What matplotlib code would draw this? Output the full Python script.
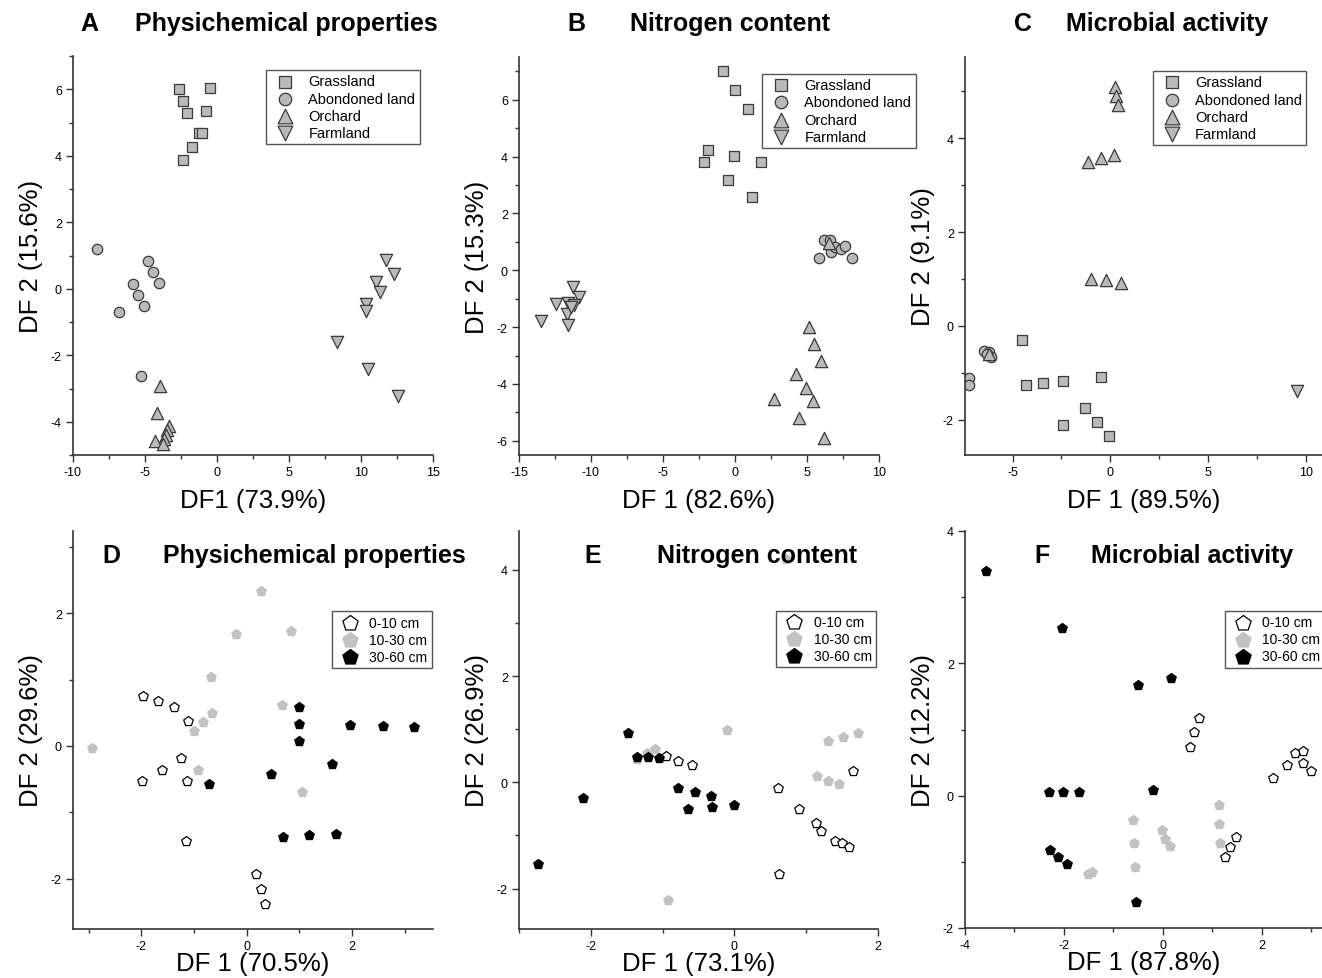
import matplotlib
matplotlib.use('Agg')
import matplotlib.pyplot as plt
from matplotlib.ticker import MultipleLocator

plt.rcParams['font.family'] = ['Liberation Sans', 'DejaVu Sans']
plt.rcParams['axes.unicode_minus'] = False

# ---- data: land use (panels A-C) ----
a_grass_x = [-2.63, -0.48, -2.35, -2.05, -0.78, -1.24, -1.03, -1.77, -2.38]
a_grass_y = [6.02, 6.03, 5.65, 5.29, 5.36, 4.67, 4.67, 4.26, 3.86]
a_aband_x = [-8.34, -4.76, -4.43, -4.04, -5.82, -5.47, -5.10, -6.81, -5.29]
a_aband_y = [1.19, 0.82, 0.49, 0.16, 0.13, -0.20, -0.51, -0.71, -2.62]
a_orch_x = [-3.99, -4.15, -3.35, -3.45, -3.55, -3.65, -4.32, -3.72]
a_orch_y = [-2.92, -3.74, -4.12, -4.25, -4.40, -4.52, -4.57, -4.67]
a_farm_x = [11.72, 12.30, 11.07, 11.33, 10.38, 10.38, 8.35, 10.47, 12.57]
a_farm_y = [0.87, 0.43, 0.20, -0.11, -0.47, -0.66, -1.60, -2.42, -3.24]

b_grass_x = [-0.81, 0.03, 0.93, -1.90, -2.18, -0.04, 1.84, -0.46, 1.19]
b_grass_y = [7.01, 6.33, 5.68, 4.24, 3.79, 4.02, 3.79, 3.18, 2.57]
b_aband_x = [6.15, 6.61, 5.80, 6.67, 6.96, 7.36, 7.61, 8.12]
b_aband_y = [1.07, 1.06, 0.43, 0.63, 0.82, 0.74, 0.85, 0.44]
b_orch_x = [6.52, 5.11, 5.52, 5.96, 4.26, 4.90, 2.72, 5.45, 4.43, 6.19]
b_orch_y = [0.96, -2.00, -2.59, -3.18, -3.65, -4.13, -4.52, -4.59, -5.20, -5.91]
b_farm_x = [-11.24, -10.83, -12.40, -11.59, -11.20, -11.66, -13.47, -11.61, -11.40]
b_farm_y = [-0.60, -0.94, -1.19, -1.16, -1.24, -1.53, -1.80, -1.94, -1.30]

c_grass_x = [-4.51, -4.30, -3.43, -2.40, -0.50, -1.30, -0.67, -2.40, -0.09]
c_grass_y = [-0.30, -1.25, -1.21, -1.17, -1.08, -1.74, -2.04, -2.11, -2.35]
c_aband_x = [-6.46, -6.20, -6.09, -6.30, -7.25, -7.25]
c_aband_y = [-0.53, -0.56, -0.66, -0.60, -1.12, -1.25]
c_orch_x = [0.26, 0.31, 0.38, -1.13, -0.48, 0.19, -1.01, -0.21, 0.57, -6.22]
c_orch_y = [5.10, 4.90, 4.70, 3.50, 3.57, 3.64, 1.01, 0.98, 0.91, -0.60]
c_farm_x = [9.57]
c_farm_y = [-1.39]

# ---- data: soil depth (panels D-F) ----
d_top_x = [-1.97, -1.68, -1.39, -1.11, -1.25, -1.61, -1.98, -1.14, -1.15, 0.18, 0.27, 0.34]
d_top_y = [0.75, 0.67, 0.59, 0.38, -0.18, -0.36, -0.53, -0.53, -1.43, -1.93, -2.15, -2.38]
d_mid_x = [0.28, -0.20, 0.84, -0.68, 0.67, -0.65, -0.83, -1.01, -2.93, -0.93, 1.06]
d_mid_y = [2.34, 1.68, 1.74, 1.04, 0.62, 0.50, 0.36, 0.22, -0.03, -0.36, -0.69]
d_deep_x = [0.99, 0.99, 0.99, 1.97, 2.59, 3.18, 1.63, 0.46, -0.72, 0.69, 1.19, 1.69]
d_deep_y = [0.58, 0.33, 0.08, 0.31, 0.30, 0.28, -0.28, -0.43, -0.58, -1.38, -1.35, -1.33]

e_top_x = [-0.95, -0.78, -0.59, 0.61, 0.90, 1.13, 1.20, 1.40, 1.50, 1.59, 1.65, 0.62]
e_top_y = [0.50, 0.41, 0.33, -0.11, -0.51, -0.76, -0.92, -1.11, -1.15, -1.21, 0.21, -1.73]
e_mid_x = [-1.10, -1.22, -1.36, -0.11, 1.30, 1.51, 1.72, 1.15, 1.31, 1.46, -0.92, 0.72]
e_mid_y = [0.63, 0.56, 0.44, 0.99, 0.78, 0.85, 0.92, 0.11, 0.02, -0.04, -2.22, 4.20]
e_deep_x = [-1.48, -1.36, -1.20, -1.05, -0.79, -0.55, -0.64, -0.32, -0.31, 0.00, -2.11, -2.74]
e_deep_y = [0.92, 0.48, 0.48, 0.46, -0.10, -0.18, -0.51, -0.26, -0.47, -0.42, -0.30, -1.53]

f_top_x = [0.73, 0.64, 0.56, 2.22, 2.52, 2.68, 2.84, 2.84, 2.99, 1.49, 1.36, 1.25]
f_top_y = [1.18, 0.96, 0.74, 0.26, 0.46, 0.65, 0.67, 0.50, 0.37, -0.62, -0.77, -0.92]
f_mid_x = [-0.61, -0.58, -0.57, -1.43, -1.51, -0.02, 0.05, 0.14, 1.13, 1.14, 1.16]
f_mid_y = [-0.37, -0.72, -1.08, -1.15, -1.19, -0.52, -0.65, -0.76, -0.14, -0.43, -0.72]
f_deep_x = [-3.57, -2.03, -0.51, 0.16, -2.30, -2.01, -1.70, -0.20, -2.28, -2.11, -1.93, -0.55]
f_deep_y = [3.39, 2.53, 1.68, 1.78, 0.05, 0.05, 0.05, 0.09, -0.82, -0.92, -1.04, -1.61]

land_labels = ['Grassland', 'Abondoned land', 'Orchard', 'Farmland']
depth_labels = ['0-10 cm', '10-30 cm', '30-60 cm']

W, H = 1322, 979
fig = plt.figure(figsize=(W / 100, H / 100), dpi=100)


def px_axes(left, right, top, bottom):
    return fig.add_axes([left / W, 1 - bottom / H, (right - left) / W, (bottom - top) / H])


def style(ax, xlim, ylim, xmaj, ymaj, xmin, ymin):
    ax.set_xlim(*xlim)
    ax.set_ylim(*ylim)
    ax.xaxis.set_major_locator(MultipleLocator(xmaj))
    ax.xaxis.set_minor_locator(MultipleLocator(xmin))
    ax.yaxis.set_major_locator(MultipleLocator(ymaj))
    ax.yaxis.set_minor_locator(MultipleLocator(ymin))
    for s in ['top', 'right']:
        ax.spines[s].set_visible(False)
    for s in ['left', 'bottom']:
        ax.spines[s].set_color('#333333')
        ax.spines[s].set_linewidth(1.2)
    ax.tick_params(which='major', direction='out', length=5, width=1, color='#333333',
                   labelsize=9, pad=3)
    ax.tick_params(which='minor', direction='out', length=3, width=1, color='#333333')


gray = '#b9b9b9'
edge = '#3a3a3a'


def legend_box(ax, leg_xy, fs, mscale, hlen, hpad):
    leg = ax.legend(loc='upper left', bbox_to_anchor=leg_xy, fontsize=fs, frameon=True,
                    fancybox=False, borderpad=0.3, labelspacing=0.22, handletextpad=hpad,
                    handlelength=hlen, borderaxespad=0, markerscale=mscale, framealpha=1)
    leg.get_frame().set_edgecolor('#555555')
    leg.get_frame().set_linewidth(1.0)


def land_panel(ax, g, a, o, f, leg_xy):
    ax.scatter(g[0], g[1], marker='s', s=48, c=gray, edgecolors=edge, linewidths=0.9, label=land_labels[0])
    ax.scatter(a[0], a[1], marker='o', s=56, c=gray, edgecolors=edge, linewidths=0.9, label=land_labels[1])
    ax.scatter(o[0], o[1], marker='^', s=78, c=gray, edgecolors=edge, linewidths=0.9, label=land_labels[2])
    ax.scatter(f[0], f[1], marker='v', s=78, c=gray, edgecolors=edge, linewidths=0.9, label=land_labels[3])
    legend_box(ax, leg_xy, 10.5, 1.2, 2.0, 0.6)


def depth_panel(ax, t, m, d, leg_xy):
    ax.scatter(t[0], t[1], marker='p', s=52, c='white', edgecolors='black', linewidths=0.9, label=depth_labels[0])
    ax.scatter(m[0], m[1], marker='p', s=52, c='#c2c2c2', edgecolors='#c2c2c2', linewidths=0.9, label=depth_labels[1])
    ax.scatter(d[0], d[1], marker='p', s=52, c='black', edgecolors='black', linewidths=0.9, label=depth_labels[2])
    legend_box(ax, leg_xy, 10, 1.6, 2.0, 0.4)


# Panel A
axA = px_axes(73, 433, 57, 456)
style(axA, (-10, 15), (-5, 7), 5, 2, 2.5, 1)
land_panel(axA, (a_grass_x, a_grass_y), (a_aband_x, a_aband_y), (a_orch_x, a_orch_y),
           (a_farm_x, a_farm_y), (0.536, 0.965))

# Panel B
axB = px_axes(519, 879, 58, 456)
style(axB, (-15, 10), (-6.5, 7.5), 5, 2, 2.5, 1)
land_panel(axB, (b_grass_x, b_grass_y), (b_aband_x, b_aband_y), (b_orch_x, b_orch_y),
           (b_farm_x, b_farm_y), (0.675, 0.958))

# Panel C
axC = px_axes(965, 1322, 58, 456)
style(axC, (-7.44, 10.84), (-2.75, 5.73), 5, 2, 2.5, 1)
land_panel(axC, (c_grass_x, c_grass_y), (c_aband_x, c_aband_y), (c_orch_x, c_orch_y),
           (c_farm_x, c_farm_y), (0.526, 0.965))

# Panel D
axD = px_axes(73, 433, 532, 930)
style(axD, (-3.3, 3.54), (-2.76, 3.24), 2, 2, 1, 1)
depth_panel(axD, (d_top_x, d_top_y), (d_mid_x, d_mid_y), (d_deep_x, d_deep_y), (0.719, 0.798))

# Panel E
axE = px_axes(519, 878, 532, 930)
style(axE, (-3, 2), (-2.76, 4.73), 2, 2, 1, 1)
depth_panel(axE, (e_top_x, e_top_y), (e_mid_x, e_mid_y), (e_deep_x, e_deep_y), (0.716, 0.80))

# Panel F
axF = px_axes(965, 1322, 532, 929)
style(axF, (-4, 3.22), (-2, 4), 2, 2, 1, 1)
depth_panel(axF, (f_top_x, f_top_y), (f_mid_x, f_mid_y), (f_deep_x, f_deep_y), (0.728, 0.798))

# axis labels
xlabels = ['DF1 (73.9%)', 'DF 1 (82.6%)', 'DF 1 (89.5%)',
           'DF 1 (70.5%)', 'DF 1 (73.1%)', 'DF 1 (87.8%)']
ylabels = ['DF 2 (15.6%)', 'DF 2 (15.3%)', 'DF 2 (9.1%)',
           'DF 2 (29.6%)', 'DF 2 (26.9%)', 'DF 2 (12.2%)']
axes = [axA, axB, axC, axD, axE, axF]
for i, (ax, xl, yl) in enumerate(zip(axes, xlabels, ylabels)):
    ax.set_xlabel(xl, fontsize=18.5, labelpad=7 if i < 3 else -1)
    ax.set_ylabel(yl, fontsize=18.5, labelpad=6)

# panel titles
titles = [('A', 80, 'Physichemical properties', 135, 24),
          ('B', 567, 'Nitrogen content', 630, 24),
          ('C', 1014, 'Microbial activity', 1066, 24),
          ('D', 102, 'Physichemical properties', 163, 556),
          ('E', 584, 'Nitrogen content', 657, 556),
          ('F', 1034, 'Microbial activity', 1091, 556)]
for letter, lx, name, tx, ty in titles:
    fig.text(lx / W, 1 - ty / H, letter, fontsize=18, fontweight='bold', va='center', ha='left')
    fig.text(tx / W, 1 - ty / H, name, fontsize=18, fontweight='bold', va='center', ha='left')

fig.savefig('out.png', dpi=100)
